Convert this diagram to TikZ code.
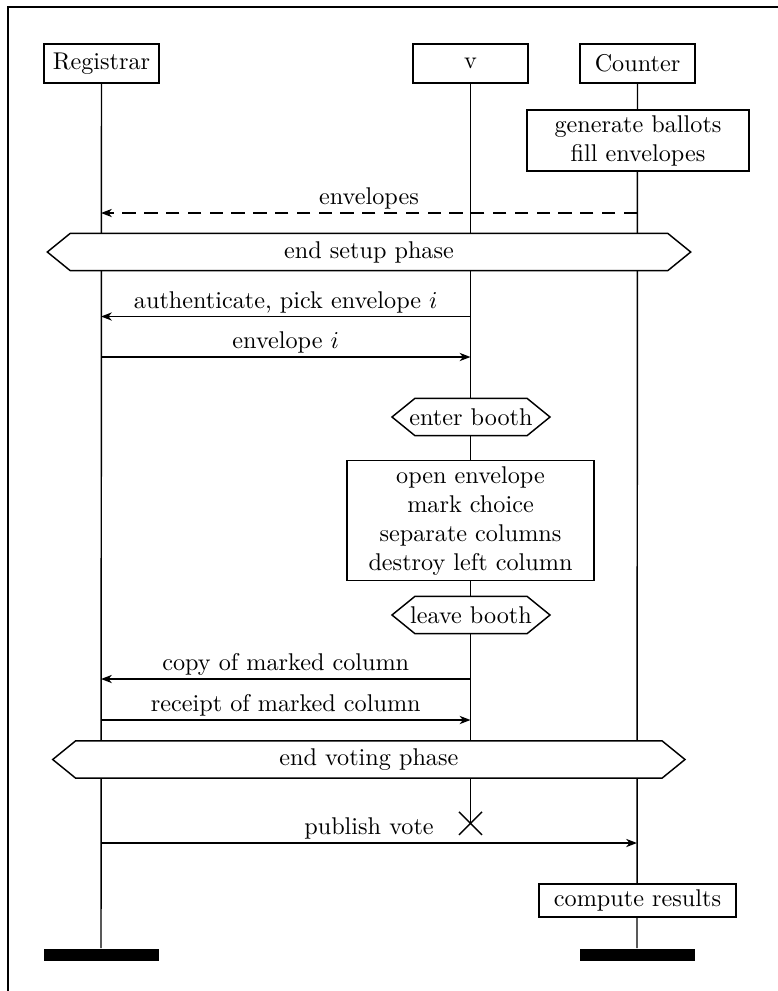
\documentclass[tikz,border=0pt]{standalone}
\usetikzlibrary{arrows.meta,calc}
\def\upx{0.413pt}
% condition hexagon: #1 name, #2 left tip x, #3 right tip x, #4 centre y, #5 text
\newcommand{\condhex}[5]{%
  \draw[fill=white] (#2,#4) -- (#2+23,#4-18.7) -- (#3-23,#4-18.7) -- (#3,#4)
    -- (#3-23,#4+18.7) -- (#2+23,#4+18.7) -- cycle;
  \node[cond] (#1) at ({(#2+#3)/2},#4) {#5};}
\begin{document}
\begin{tikzpicture}[x=\upx,y=-\upx,line width=0.6pt,
  inst/.style={draw,fill=white,inner sep=0pt,minimum width=115*\upx,minimum height=39*\upx},
  act/.style={draw,fill=white,inner sep=0pt,align=center},
  lbl/.style={anchor=base,inner sep=0pt},
  msg/.style={-{Stealth[length=4.5pt,width=3.4pt,inset=1.4pt]}},
  msgd/.style={msg,dash pattern=on 5.5pt off 3.5pt},
  cond/.style={inner sep=0pt},
  endbar/.style={fill=black,draw=none,inner sep=0pt,minimum width=115*\upx,minimum height=12*\upx,anchor=north}]
\useasboundingbox (0,0) rectangle (777,991);
% frame
\draw (8,7) rectangle (800,1010);

% instance heads
\node[inst] (reg) at (101.5,63.5) {Registrar};
\node[inst] (voter) at (470.5,63.5) {v};
\node[inst] (cnt) at (637.5,63.5) {Counter};

% lifelines
\coordinate (regend) at (101,948);
\coordinate (vstop) at (470.5,823.3);
\coordinate (cntend) at (637,948);
\draw (reg.south) -- (regend);
\draw (voter.south) -- (vstop);
\draw (cnt.south) -- (cntend);

% instance ends
\node[endbar] (regbar) at (regend) {};
\node[endbar] (cntbar) at (cntend) {};
\draw (vstop) +(-11.5,-11.5) -- +(11.5,11.5)
      (vstop) +(-11.5,11.5) -- +(11.5,-11.5);

% actions
\node[act,minimum width=222*\upx,minimum height=61*\upx] (gen) at (638,140.5)
  {generate ballots\\fill envelopes};
\node[act,minimum width=247*\upx,minimum height=120*\upx] (booth) at (470.5,520.7)
  {open envelope\\mark choice\\separate columns\\destroy left column};
\node[act,minimum width=197*\upx,minimum height=33*\upx] (comp) at (637.5,900.5)
  {compute results};

% conditions
\condhex{setup}{47.3}{690.7}{252}{end setup phase}
\condhex{enter}{392}{550}{417}{enter booth}
\condhex{leave}{392}{550}{615}{leave booth}
\condhex{voting}{52.7}{685}{759.5}{end voting phase}

% messages
\coordinate (c1) at (637,213);   \coordinate (r1) at (101,213);
\coordinate (v2) at (470.5,316.5); \coordinate (r2) at (101,316.5);
\coordinate (r3) at (101,357);   \coordinate (v3) at (470.5,357);
\coordinate (v4) at (470.5,679); \coordinate (r4) at (101,679);
\coordinate (r5) at (101,720);   \coordinate (v5) at (470.5,720);
\coordinate (r6) at (101,843);   \coordinate (c6) at (637,843);

\draw[msgd] (c1) -- (r1);
\draw[msg] (v2) -- (r2);
\draw[msg] (r3) -- (v3);
\draw[msg] (v4) -- (r4);
\draw[msg] (r5) -- (v5);
\draw[msg] (r6) -- (c6);

\node[lbl] (m1) at ($(c1)!0.5!(r1)+(0,-8.5)$) {envelopes};
\node[lbl] (m2) at ($(v2)!0.5!(r2)+(0,-8.5)$) {authenticate, pick envelope $i$};
\node[lbl] (m3) at ($(r3)!0.5!(v3)+(0,-8.5)$) {envelope $i$};
\node[lbl] (m4) at ($(v4)!0.5!(r4)+(0,-8.5)$) {copy of marked column};
\node[lbl] (m5) at ($(r5)!0.5!(v5)+(0,-8.5)$) {receipt of marked column};
\node[lbl] (m6) at ($(r6)!0.5!(c6)+(0,-8.5)$) {publish vote};
\end{tikzpicture}
\end{document}
